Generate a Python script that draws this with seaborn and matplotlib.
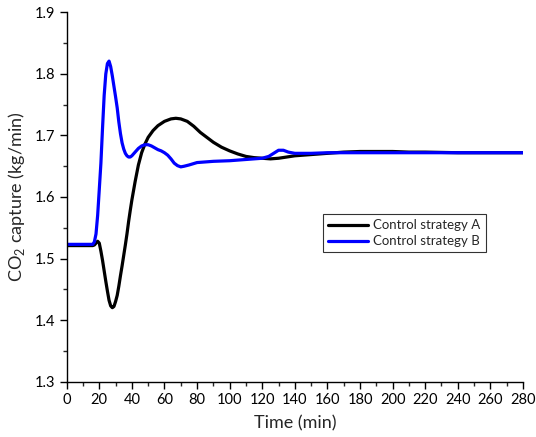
import pandas as pd
import matplotlib
matplotlib.use("Agg")
import matplotlib.pyplot as plt
from matplotlib.ticker import MultipleLocator
import seaborn as sns

# values
time_a = [0, 10, 16, 17, 18, 19, 20, 21, 22, 23, 24, 25, 26, 27, 28, 29, 30,
          31, 32, 33, 34, 35, 36, 37, 38, 39, 40, 42, 44, 46, 48, 50, 53, 56,
          60, 64, 67, 70, 74, 78, 82, 86, 90, 95, 100, 105, 110, 115, 120, 125,
          130, 135, 140, 150, 160, 170, 180, 190, 200, 210, 220, 240, 260, 280]
capture_a = [1.521, 1.521, 1.521, 1.522, 1.525, 1.528, 1.525, 1.512, 1.497,
             1.480, 1.463, 1.447, 1.432, 1.423, 1.420, 1.422, 1.430, 1.440,
             1.455, 1.472, 1.488, 1.505, 1.522, 1.540, 1.560, 1.578, 1.595,
             1.625, 1.652, 1.672, 1.686, 1.697, 1.708, 1.716, 1.723, 1.727,
             1.728, 1.727, 1.723, 1.715, 1.705, 1.697, 1.689, 1.681, 1.675,
             1.670, 1.666, 1.664, 1.663, 1.662, 1.663, 1.665, 1.667, 1.669,
             1.671, 1.673, 1.674, 1.674, 1.674, 1.673, 1.673, 1.672, 1.672,
             1.672]

time_b = [0, 10, 16, 17, 18, 19, 20, 21, 22, 23, 24, 25, 26, 27, 28, 29, 30,
          31, 32, 33, 34, 35, 36, 37, 38, 39, 40, 42, 44, 46, 48, 50, 52, 54,
          56, 58, 60, 62, 64, 66, 68, 70, 72, 75, 80, 85, 90, 100, 110, 120,
          124, 127, 130, 133, 136, 140, 150, 160, 180, 200, 240, 280]
capture_b = [1.523, 1.523, 1.523, 1.527, 1.540, 1.570, 1.612, 1.655, 1.712,
             1.765, 1.800, 1.817, 1.821, 1.812, 1.797, 1.780, 1.763, 1.745,
             1.722, 1.703, 1.688, 1.678, 1.671, 1.667, 1.665, 1.665, 1.667,
             1.673, 1.679, 1.683, 1.685, 1.685, 1.683, 1.680, 1.677, 1.675,
             1.672, 1.668, 1.662, 1.655, 1.651, 1.649, 1.650, 1.652, 1.656,
             1.657, 1.658, 1.659, 1.661, 1.663, 1.666, 1.671, 1.676, 1.676,
             1.673, 1.671, 1.671, 1.672, 1.672, 1.672, 1.672, 1.672]

labels = ["Control strategy A", "Control strategy B"]
colors = ["black", "#0000ff"]

df = pd.concat([
    pd.DataFrame({"time": time_a, "capture": capture_a, "series": labels[0]}),
    pd.DataFrame({"time": time_b, "capture": capture_b, "series": labels[1]}),
])

sns.set_style("ticks")
plt.rcParams["font.family"] = ["Lato", "DejaVu Sans"]
plt.rcParams["mathtext.fontset"] = "custom"
plt.rcParams["mathtext.rm"] = "Lato"

fig = plt.figure(figsize=(5.36, 4.37), dpi=100)
ax = fig.add_axes([0.1244, 0.127, 0.8513, 0.8444])

sns.lineplot(data=df, x="time", y="capture", hue="series",
             palette=dict(zip(labels, colors)), linewidth=2.3, ax=ax)

ax.set_xlim(0, 280)
ax.set_ylim(1.3, 1.9)
ax.xaxis.set_major_locator(MultipleLocator(20))
ax.xaxis.set_minor_locator(MultipleLocator(10))
ax.yaxis.set_major_locator(MultipleLocator(0.1))
ax.yaxis.set_minor_locator(MultipleLocator(0.05))
ax.tick_params(which="major", direction="out", length=5, width=1,
               labelsize=10.5, colors="black", pad=3)
ax.tick_params(which="minor", direction="out", length=3, width=1)
for side in ["top", "right"]:
    ax.spines[side].set_visible(False)
for side in ["left", "bottom"]:
    ax.spines[side].set_color("black")
    ax.spines[side].set_linewidth(1)

ax.set_xlabel("Time (min)", fontsize=13, labelpad=6)
ax.set_ylabel(r"CO$_2$ capture (kg/min)", fontsize=13, labelpad=6)

leg = ax.legend(loc="upper left", bbox_to_anchor=(0.562, 0.454),
                borderaxespad=0, fontsize=9.5, frameon=True, fancybox=False,
                handlelength=3.0, handletextpad=0.4, borderpad=0.4,
                labelspacing=0.3)
leg.get_frame().set_edgecolor("black")
leg.get_frame().set_linewidth(0.8)
leg.set_title(None)

fig.savefig("out.png", dpi=100)
